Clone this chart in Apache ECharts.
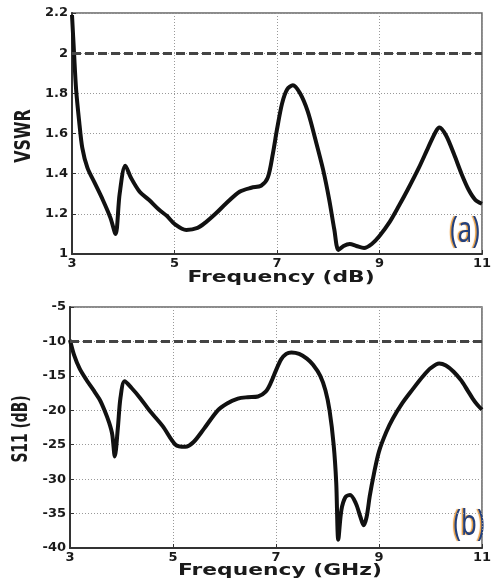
<!DOCTYPE html>
<html><head><meta charset="utf-8">
<script src="https://cdn.jsdelivr.net/npm/echarts@6/dist/echarts.min.js"></script>
<style>html,body{margin:0;padding:0;background:#fff}#c{width:494px;height:583px}</style>
</head><body><div id="c"></div>
<script>
const freqA = [3.0, 3.04, 3.08, 3.14, 3.2, 3.3, 3.45, 3.6, 3.75, 3.85, 3.93, 4.04, 4.15, 4.32, 4.5, 4.7, 4.85, 5.0, 5.23, 5.45, 5.62, 5.8, 6.0, 6.27, 6.5, 6.69, 6.82, 6.92, 7.0, 7.1, 7.2, 7.31, 7.45, 7.6, 7.75, 7.9, 8.02, 8.12, 8.2, 8.3, 8.42, 8.55, 8.7, 8.85, 9.0, 9.2, 9.38, 9.55, 9.77, 9.95, 10.1, 10.17, 10.3, 10.45, 10.6, 10.74, 10.87, 11.0];
const vswr = [2.19, 2.0, 1.82, 1.66, 1.53, 1.43, 1.35, 1.27, 1.18, 1.10, 1.30, 1.44, 1.38, 1.31, 1.27, 1.22, 1.19, 1.15, 1.12, 1.13, 1.16, 1.20, 1.25, 1.31, 1.33, 1.34, 1.38, 1.50, 1.62, 1.75, 1.82, 1.84, 1.80, 1.71, 1.57, 1.42, 1.27, 1.12, 1.02, 1.04, 1.05, 1.04, 1.03, 1.05, 1.09, 1.16, 1.24, 1.32, 1.43, 1.53, 1.61, 1.63, 1.59, 1.50, 1.40, 1.32, 1.27, 1.25];
const freqB = [3.0, 3.08, 3.19, 3.32, 3.45, 3.58, 3.67, 3.76, 3.82, 3.87, 3.93, 3.98, 4.06, 4.2, 4.36, 4.54, 4.8, 5.05, 5.24, 5.4, 5.6, 5.87, 6.05, 6.26, 6.45, 6.65, 6.8, 6.9, 7.0, 7.1, 7.2, 7.3, 7.45, 7.6, 7.72, 7.86, 7.96, 8.04, 8.12, 8.17, 8.21, 8.27, 8.35, 8.44, 8.55, 8.64, 8.7, 8.76, 8.82, 8.9, 9.0, 9.14, 9.27, 9.45, 9.65, 9.85, 10.0, 10.17, 10.3, 10.45, 10.6, 10.72, 10.82, 10.91, 11.0];
const s11 = [-9.8, -12.0, -14.0, -15.6, -17.0, -18.5, -20.0, -21.8, -23.5, -26.7, -22.5, -18.2, -15.8, -16.8, -18.2, -20.0, -22.3, -25.0, -25.3, -24.6, -22.7, -20.0, -19.0, -18.3, -18.1, -18.0, -17.3, -16.0, -14.2, -12.6, -11.8, -11.6, -11.8, -12.5, -13.4, -15.0, -17.1, -20.0, -25.0, -30.5, -38.8, -34.5, -32.6, -32.3, -33.5, -35.5, -36.7, -35.5, -32.5, -29.3, -26.0, -23.2, -21.2, -19.0, -17.0, -15.1, -13.9, -13.2, -13.5, -14.4, -15.7, -17.1, -18.3, -19.2, -19.9];
const vswrThreshold = 2;
const s11Threshold = -10;
const xTitles = ['Frequency (dB)', 'Frequency (GHz)'];
const yTitles = ['VSWR', 'S11 (dB)'];
const panelLabels = ['(a)', '(b)'];

const chart = echarts.init(document.getElementById('c'), null, {renderer: 'canvas'});
const labelFont = {fontFamily: 'DejaVu Sans', fontWeight: 'bold', fontSize: 13, color: '#1a1a1a'};
function xAx(gi) {
  return {gridIndex: gi, type: 'value', min: 3, max: 11, interval: 2,
    axisLine: {show: true, onZero: false, lineStyle: {color: '#333', width: 2}},
    axisTick: {show: true, inside: true, length: 4, lineStyle: {color: '#333'}},
    axisLabel: Object.assign({margin: 3}, labelFont),
    splitLine: {show: true, lineStyle: {type: [1, 2], color: '#999', width: 1}}};
}
function yAx(gi, min, max, interval) {
  return {gridIndex: gi, type: 'value', min: min, max: max, interval: interval,
    axisLine: {show: true, lineStyle: {color: '#333', width: 2}},
    axisTick: {show: true, inside: true, length: 4, lineStyle: {color: '#333'}},
    axisLabel: Object.assign({margin: 4}, labelFont),
    splitLine: {show: true, lineStyle: {type: [1, 2], color: '#999', width: 1}}};
}
function mk(idx, xs, ys, thr) {
  return {type: 'line', xAxisIndex: idx, yAxisIndex: idx,
    data: xs.map((f, i) => [f, ys[i]]), showSymbol: false, smooth: 0.3,
    lineStyle: {color: '#111', width: 4}, z: 3,
    markLine: {silent: true, symbol: ['none', 'none'], label: {show: false},
      lineStyle: {type: [9, 4], color: '#444', width: 3},
      data: [{yAxis: thr}]}};
}
function title(x, y, text, size, sx, rot) {
  return {type: 'text', x: x, y: y, rotation: rot || 0, scaleX: sx,
    style: {text: text, fontFamily: 'DejaVu Sans', fontWeight: 'bold', fontSize: size,
      fill: '#1a1a1a', textAlign: 'center', textVerticalAlign: 'middle'}};
}
function tag(x, y, text) {
  return {type: 'text', x: x, y: y, scaleX: 0.72,
    style: {text: text, fontFamily: 'Open Sans', fontSize: 36, fill: '#22407e',
      textAlign: 'center', textVerticalAlign: 'middle',
      textShadowColor: '#e89a3c', textShadowOffsetX: -1.5, textShadowBlur: 1}};
}
chart.setOption({
  animation: false,
  backgroundColor: '#fff',
  grid: [
    {left: 72, top: 13, width: 411, height: 241, show: true, borderColor: '#666', borderWidth: 1.5},
    {left: 70, top: 307, width: 417, height: 241, show: true, borderColor: '#666', borderWidth: 1.5}
  ],
  xAxis: [xAx(0), xAx(1)],
  yAxis: [yAx(0, 1, 2.2, 0.2), yAx(1, -40, -5, 5)],
  series: [mk(0, freqA, vswr, vswrThreshold), mk(1, freqB, s11, s11Threshold)],
  graphic: [
    title(281, 278, xTitles[0], 16.5, 1.32),
    title(280, 571, xTitles[1], 16.5, 1.32),
    title(24, 136, yTitles[0], 22, 0.72, Math.PI / 2),
    title(21, 429, yTitles[1], 22, 0.63, Math.PI / 2),
    tag(465, 232, panelLabels[0]),
    tag(469, 525, panelLabels[1])
  ]
});
</script></body></html>
